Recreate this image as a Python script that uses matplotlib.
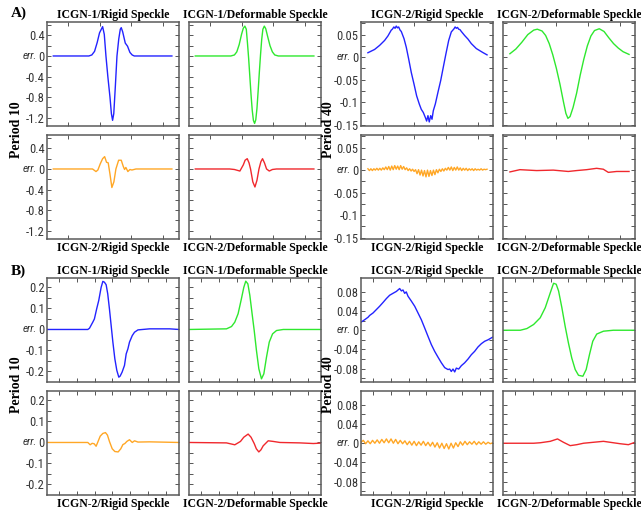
import matplotlib
matplotlib.use('Agg')
import matplotlib.pyplot as plt

# ---- data (x: 0..100 along each trace) ----

# A) period 10, ICGN-1
a10_rigid_x = [0, 30, 32.5, 34.8, 37, 39, 41.6, 43, 44.4, 46, 47.8, 49, 50, 51, 52.3, 53.7, 55.2, 56.5, 57.3,
               58.5, 60.7, 62.6, 64.6, 66.5, 68.3, 100]
a10_rigid_y = [0, 0, 0.02, 0.09, 0.26, 0.45, 0.57, 0.42, 0.0, -0.4, -0.8, -1.12, -1.25, -1.12, -0.6, 0.0, 0.33,
               0.52, 0.55, 0.47, 0.25, 0.19, 0.07, 0.02, 0.0, 0.0]
a10_deform_x = [0, 30, 33, 35, 37, 39, 40.5, 41.8, 43, 44, 45, 46, 47, 48, 49, 50, 51, 52, 53, 54, 55, 56, 57,
                58.2, 59.4, 61, 63, 65, 67, 70, 100]
a10_deform_y = [0, 0, 0.02, 0.08, 0.22, 0.42, 0.54, 0.58, 0.52, 0.25, -0.05, -0.4, -0.75, -1.05, -1.25, -1.31,
                -1.24, -1.02, -0.68, -0.32, 0.02, 0.32, 0.52, 0.58, 0.53, 0.38, 0.2, 0.08, 0.02, 0, 0]
# A) period 10, ICGN-2
a10_rigid2_x = [0, 33.1, 36, 37.6, 39.6, 41.6, 43.3, 44.9, 46.3, 47.8, 49.4, 51.1, 52.8, 55.1, 57.3, 59, 60.1,
                61.2, 62.9, 64.6, 66.3, 69.7, 100]
a10_rigid2_y = [0, 0, -0.05, -0.02, 0.1, 0.2, 0.24, 0.13, 0.12, -0.1, -0.36, -0.25, 0.0, 0.17, 0.17, 0.05, -0.01,
                0.03, -0.05, -0.01, -0.02, 0.0, 0]
a10_deform2_x = [0, 29, 33, 37.6, 40.5, 42, 43.8, 45.3, 46.6, 48.5, 50.3, 52, 53.7, 55.3, 56.7, 58.3, 60.1, 62.4,
                 65, 68.5, 100]
a10_deform2_y = [0, 0, -0.01, -0.04, 0.08, 0.17, 0.2, 0.12, 0.0, -0.25, -0.35, -0.22, 0.0, 0.14, 0.2, 0.12, 0.0,
                 -0.04, -0.01, 0, 0]

# A) period 40
a40_rigid_x = [0, 5.6, 9.8, 14, 16.8, 19.6, 20.5, 21.8, 22.8, 23.8, 24.8, 25.8, 27, 28, 30.3, 32.2, 34.2, 36.4,
               38.7, 40.9, 43.1, 44.8, 46.5, 48.2, 49.3, 50.4, 51.5, 52.7, 53.8, 54.9, 56.6, 58.8, 61.1, 63.3,
               65.5, 67.8, 70, 72.3, 73.2, 74.2, 75.2, 76.2, 77.3, 78.4, 81.2, 84, 86.8, 91, 96.6, 100]
a40_rigid_y = [0.0097, 0.017, 0.026, 0.037, 0.047, 0.06, 0.062, 0.067, 0.064, 0.069, 0.065, 0.067, 0.06, 0.057,
               0.041, 0.022, -0.004, -0.034, -0.06, -0.086, -0.104, -0.116, -0.123, -0.134, -0.142, -0.13, -0.144,
               -0.13, -0.138, -0.119, -0.104, -0.078, -0.052, -0.022, 0.0075, 0.037, 0.056, 0.063, 0.067, 0.064,
               0.066, 0.062, 0.061, 0.057, 0.048, 0.04, 0.03, 0.019, 0.01, 0.005]
a40_deform_x = [0, 5, 10, 15, 20, 23, 27, 30, 33, 36, 39, 42, 45, 47, 48.7, 50.5, 53, 56, 59, 62, 65, 68, 71, 75,
                79, 83, 87, 91, 95, 100]
a40_deform_y = [0.0075, 0.018, 0.033, 0.05, 0.06, 0.062, 0.058, 0.048, 0.03, 0.005, -0.025, -0.06, -0.1, -0.125,
                -0.136, -0.132, -0.112, -0.08, -0.04, -0.005, 0.025, 0.047, 0.059, 0.063, 0.057, 0.043, 0.03,
                0.02, 0.012, 0.006]
a40_rigid2_y = [0.003, -0.001, 0.003, -0.001, 0.003, 0.000, 0.004, 0.000, 0.004, 0.000, 0.005, 0.001,
                0.007, 0.001, 0.008, 0.000, 0.009, 0.001, 0.010, 0.002, 0.009, 0.001, 0.010, 0.002, 0.008,
                0.001, 0.005, -0.001, 0.003, -0.002, 0.002, -0.003,
                0.001, -0.008, 0.001, -0.011, 0.000, -0.013, -0.001, -0.015, 0.000, -0.014, -0.001, -0.012,
                0.000, -0.010, 0.001,
                -0.006, 0.002, -0.003, 0.003, -0.002, 0.004,
                0.000, 0.006, 0.000, 0.007, -0.001, 0.006, 0.000, 0.007, 0.000, 0.005, -0.001, 0.004,
                0.000, 0.004, -0.001, 0.003, 0.000, 0.003, -0.001, 0.003, 0.000, 0.002, 0.000, 0.003, 0.000,
                0.002, 0.001, 0.002]
a40_rigid2_x = [1.25 * i for i in range(len(a40_rigid2_y))]
a40_deform2_x = [0, 8.4, 22.4, 36.4, 49, 56, 64.4, 72.8, 78.4, 82.6, 89.6, 100]
a40_deform2_y = [-0.004, 0.001, -0.001, 0.0, -0.003, -0.001, 0.001, 0.004, 0.002, -0.005, -0.003, -0.003]

# B) period 10
b10_rigid_x = [0, 30.9, 32.2, 34.7, 35.9, 37.7, 39.2, 41, 42.3, 43.5, 44.8, 46, 47.3, 48.6, 49.9, 51.4, 52.9,
               54.4, 55.4, 56.9, 58.7, 60, 61.3, 62.5, 64.6, 66.3, 68.9, 77.7, 85.3, 92.9, 100]
b10_rigid_y = [0, 0, 0.006, 0.035, 0.05, 0.1, 0.138, 0.2, 0.229, 0.225, 0.213, 0.17, 0.098, 0.019, -0.06, -0.14,
               -0.195, -0.227, -0.222, -0.203, -0.171, -0.116, -0.092, -0.06, -0.029, -0.013, -0.002, 0.003,
               0.003, 0.003, 0]
b10_deform_x = [0, 28.4, 32.2, 34.7, 37.2, 39.7, 41.5, 43, 44.6, 46.1, 47.8, 49.4, 51.1, 52.9, 54.9, 56.7, 58.7,
                60.8, 63.3, 66.3, 71.4, 100]
b10_deform_y = [0, 0.003, 0.014, 0.035, 0.075, 0.146, 0.2, 0.23, 0.217, 0.162, 0.075, -0.005, -0.1, -0.187,
                -0.235, -0.211, -0.132, -0.06, -0.021, -0.005, 0, 0]
b10_rigid2_x = [0, 30.9, 32.7, 34.2, 35.7, 37.2, 38.7, 40.3, 42.3, 44.3, 45.8, 47.3, 49.4, 51.4, 53.9, 55.9,
                57.5, 59, 60.5, 62.5, 64.6, 66.3, 68.9, 77.7, 100]
b10_rigid2_y = [0, 0, -0.011, -0.004, -0.006, -0.018, 0.005, 0.03, 0.043, 0.047, 0.035, 0.005, -0.03, -0.043,
                -0.045, -0.03, -0.01, -0.005, 0.005, 0.013, 0.0, 0.008, 0.002, 0.003, 0]
b10_deform2_x = [0, 28.4, 34.7, 39, 41.5, 44.8, 47, 49.4, 51, 52.9, 54.5, 56.2, 60, 63.8, 68.9, 84, 94.2, 100]
b10_deform2_y = [0, -0.002, -0.011, 0.005, 0.025, 0.04, 0.025, -0.005, -0.03, -0.045, -0.035, -0.016, 0.008,
                 0.005, 0.0, -0.002, -0.005, -0.003]

# B) period 40
b40_rigid_x = [0, 2.8, 5.3, 6.6, 9.1, 11.6, 14.1, 16.7, 19.2, 21.7, 24.2, 26.8, 29.3, 30.6, 31.8, 33.1, 34.3,
               35.6, 38.1, 40.7, 43.2, 45.7, 48.2, 50.8, 53.3, 55.8, 58.3, 60.9, 63.4, 65.9, 67.2, 68.4, 69.7, 71,
               72.2, 74, 76, 78.5, 81.1, 83.6, 86.1, 88.6, 91.2, 93.7, 96.2, 100]
b40_rigid_y = [0.0168, 0.022, 0.027, 0.031, 0.036, 0.043, 0.050, 0.058, 0.066, 0.073, 0.077, 0.081, 0.087, 0.082,
               0.084, 0.077, 0.080, 0.071, 0.061, 0.050, 0.036, 0.022, 0.005, -0.013, -0.030, -0.044, -0.056,
               -0.068, -0.078, -0.082, -0.081, -0.086, -0.081, -0.087, -0.079, -0.081, -0.074, -0.068, -0.060,
               -0.051, -0.044, -0.035, -0.028, -0.023, -0.020, -0.014]
b40_deform_x = [0, 13.1, 18.1, 23.2, 28.2, 32, 35.8, 38.3, 40.3, 42.1, 44.6, 47.1, 49.6, 52.1, 54.7, 57.2, 60.5,
                63, 65.5, 68, 71, 76.1, 83.6, 100]
b40_deform_y = [0, 0, 0.0035, 0.012, 0.026, 0.047, 0.078, 0.098, 0.096, 0.082, 0.047, 0.008, -0.027, -0.058,
                -0.082, -0.094, -0.096, -0.082, -0.051, -0.023, -0.008, -0.002, 0, 0]
b40_rigid2_y = [0.002, 0.006, -0.001, 0.005, -0.001, 0.006, 0.000, 0.007, 0.000, 0.008, 0.001, 0.009, 0.001,
                0.009, 0.000, 0.008, -0.001, 0.006, -0.001,
                0.005, -0.003, 0.004, -0.004, 0.004, -0.005, 0.003, -0.004, 0.004, -0.005, 0.002,
                -0.006, 0.002, -0.008, 0.001, -0.010, 0.000, -0.011, -0.001, -0.012, 0.000, -0.010, 0.001, -0.007,
                0.003, -0.004, 0.004, -0.003, 0.003, -0.002, 0.004, -0.003, 0.003, -0.002, 0.003, -0.002, 0.002,
                -0.001, 0.001]
b40_rigid2_x = [1.75 * i for i in range(len(b40_rigid2_y))]
b40_deform2_x = [0, 23.2, 28.2, 35.8, 41.3, 45.8, 50.9, 55.9, 61, 68.5, 76.1, 81.1, 88.7, 95, 100]
b40_deform2_y = [0, 0.0, 0.001, 0.004, 0.009, 0.002, -0.005, -0.003, 0.0, 0.002, 0.004, 0.002, -0.001, -0.003,
                 0.002]

# axis ticks / labels
a10_ticks = [0.6, 0.4, 0.2, 0, -0.2, -0.4, -0.6, -0.8, -1.0, -1.2]
a10_labels = ['', '0.4', '', '0', '', '-0.4', '', '-0.8', '', '-1.2']
a40_ticks = [0.075, 0.05, 0.025, 0, -0.025, -0.05, -0.075, -0.1, -0.125, -0.15]
a40_labels = ['', '0.05', '', '0', '', '-0.05', '', '-0.1', '', '-0.15']
b10_ticks = [0.2, 0.15, 0.1, 0.05, 0, -0.05, -0.1, -0.15, -0.2]
b10_labels = ['0.2', '', '0.1', '', '0', '', '-0.1', '', '-0.2']
b40_ticks = [0.08, 0.06, 0.04, 0.02, 0, -0.02, -0.04, -0.06, -0.08, -0.1]
b40_labels = ['0.08', '', '0.04', '', '0', '', '-0.04', '', '-0.08', '']
a_xticks = [12.4, 39, 65.6, 92.2]
b_xticks = [9, 22.5, 36, 49.5, 63, 76.5, 90]

BLUE, GREEN, ORANGE, RED = '#2323ff', '#2ee82e', '#ffa726', '#f0282d'
SERIF = ['Liberation Serif', 'DejaVu Serif']
NARROW = ['Liberation Sans Narrow', 'Noto Sans Condensed', 'DejaVu Sans Condensed', 'Roboto Condensed',
          'Liberation Sans', 'DejaVu Sans']

fig = plt.figure(figsize=(6.41, 5.12), dpi=100)
W, H = 641.0, 512.0


def make_ax(px, py, pw=132, ph=104):
    return fig.add_axes([px / W, 1 - (py + ph) / H, pw / W, ph / H])


def style(ax, yt, ylab, ylim, xt, xlim):
    ax.set_xlim(*xlim)
    ax.set_ylim(*ylim)
    ax.set_xticks(xt)
    ax.set_xticklabels([])
    ax.set_yticks(yt)
    ax.set_yticklabels(ylab, fontfamily=NARROW, fontstretch='condensed', fontsize=9, color='#333333')
    ax.tick_params(direction='in', length=3, width=0.7, color='#555555', top=True, right=True, pad=1.8)
    for s in ax.spines.values():
        s.set_color('#5a5a5a')
        s.set_linewidth(1.1)


def err_label(ax):
    ax.annotate('err.', xy=(0, 0), xycoords=('axes fraction', 'data'), xytext=(-7.5, 0),
                textcoords='offset points', ha='right', va='center', fontsize=8,
                style='italic', family=NARROW, color='#333333')


cols = [47, 189, 361, 503]
rows = [22, 135, 278, 391]

panels = [
    # (row, col, x, y, color, ticks, labels, ylim, xticks, xlim, label, top)
    (0, 0, a10_rigid_x, a10_rigid_y, BLUE, a10_ticks, a10_labels, (-1.36, 0.66), a_xticks, (-5.3, 106), 'ICGN-1/Rigid Speckle', True),
    (0, 1, a10_deform_x, a10_deform_y, GREEN, a10_ticks, a10_labels, (-1.36, 0.66), a_xticks, (-5.3, 106), 'ICGN-1/Deformable Speckle', True),
    (1, 0, a10_rigid2_x, a10_rigid2_y, ORANGE, a10_ticks, a10_labels, (-1.36, 0.66), a_xticks, (-5.3, 106), 'ICGN-2/Rigid Speckle', False),
    (1, 1, a10_deform2_x, a10_deform2_y, RED, a10_ticks, a10_labels, (-1.36, 0.66), a_xticks, (-5.3, 106), 'ICGN-2/Deformable Speckle', False),
    (0, 2, a40_rigid_x, a40_rigid_y, BLUE, a40_ticks, a40_labels, (-0.153, 0.078), a_xticks, (-5.8, 105), 'ICGN-2/Rigid Speckle', True),
    (0, 3, a40_deform_x, a40_deform_y, GREEN, a40_ticks, a40_labels, (-0.153, 0.078), a_xticks, (-5.8, 105), 'ICGN-2/Deformable Speckle', True),
    (1, 2, a40_rigid2_x, a40_rigid2_y, ORANGE, a40_ticks, a40_labels, (-0.153, 0.078), a_xticks, (-5.8, 105), 'ICGN-2/Rigid Speckle', False),
    (1, 3, a40_deform2_x, a40_deform2_y, RED, a40_ticks, a40_labels, (-0.153, 0.078), a_xticks, (-5.8, 105), 'ICGN-2/Deformable Speckle', False),
    (2, 0, b10_rigid_x, b10_rigid_y, BLUE, b10_ticks, b10_labels, (-0.25, 0.245), b_xticks, (0, 100), 'ICGN-1/Rigid Speckle', True),
    (2, 1, b10_deform_x, b10_deform_y, GREEN, b10_ticks, b10_labels, (-0.25, 0.245), b_xticks, (0, 100), 'ICGN-1/Deformable Speckle', True),
    (3, 0, b10_rigid2_x, b10_rigid2_y, ORANGE, b10_ticks, b10_labels, (-0.25, 0.245), b_xticks, (0, 100), 'ICGN-2/Rigid Speckle', False),
    (3, 1, b10_deform2_x, b10_deform2_y, RED, b10_ticks, b10_labels, (-0.25, 0.245), b_xticks, (0, 100), 'ICGN-2/Deformable Speckle', False),
    (2, 2, b40_rigid_x, b40_rigid_y, BLUE, b40_ticks, b40_labels, (-0.108, 0.109), b_xticks, (0, 100), 'ICGN-2/Rigid Speckle', True),
    (2, 3, b40_deform_x, b40_deform_y, GREEN, b40_ticks, b40_labels, (-0.108, 0.109), b_xticks, (0, 100), 'ICGN-2/Deformable Speckle', True),
    (3, 2, b40_rigid2_x, b40_rigid2_y, ORANGE, b40_ticks, b40_labels, (-0.108, 0.109), b_xticks, (0, 100), 'ICGN-2/Rigid Speckle', False),
    (3, 3, b40_deform2_x, b40_deform2_y, RED, b40_ticks, b40_labels, (-0.108, 0.109), b_xticks, (0, 100), 'ICGN-2/Deformable Speckle', False),
]

for r, c, xs, ys, color, yt, yl, ylim, xt, xlim, label, top in panels:
    ax = make_ax(cols[c], rows[r])
    ax.plot(xs, ys, color=color, lw=1.0)
    style(ax, yt, yl, ylim, xt, xlim)
    if c in (1, 3):
        ax.set_yticklabels([])
    else:
        err_label(ax)
    if top:
        ax.set_title(label, fontsize=8.5, fontweight='bold', family=SERIF, pad=3)
    else:
        ax.set_xlabel(label, fontsize=8.5, fontweight='bold', family=SERIF, labelpad=0.5)

# panel letters and period labels
for txt, y in [('A)', 13), ('B)', 271)]:
    fig.text(11 / W, 1 - y / H, txt, fontsize=11, fontweight='bold', family=SERIF, va='center', ha='left')
for y in [130, 385]:
    fig.text(17 / W, 1 - y / H, 'Period 10', rotation=90, fontsize=10, fontweight='bold', family=SERIF,
             va='center', ha='center')
    fig.text(329 / W, 1 - y / H, 'Period 40', rotation=90, fontsize=10, fontweight='bold', family=SERIF,
             va='center', ha='center')

fig.savefig('out.png', dpi=100)
